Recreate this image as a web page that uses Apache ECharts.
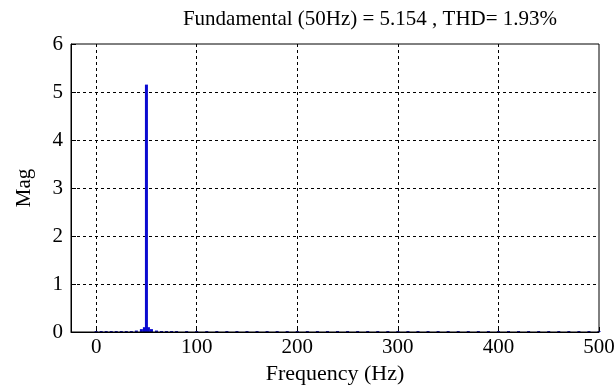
<!DOCTYPE html>
<html>
<head>
<meta charset="utf-8">
<script src="https://cdn.jsdelivr.net/npm/echarts@6/dist/echarts.min.js"></script>
<style>
  html,body{margin:0;padding:0;background:#fff;}
  #chart{width:616px;height:387px;}
</style>
</head>
<body>
<div id="chart"></div>
<script>
// spectrum
var freqs = [0, 5, 10, 15, 20, 25, 30, 35, 40, 45, 48, 50, 52, 55, 60, 65, 70, 75, 80, 90, 100, 110, 120, 130, 140, 150,
             160, 170, 180, 190, 200, 210, 220, 230, 240, 250, 260, 270, 280, 290, 300, 310, 320, 330, 340, 350,
             360, 370, 380, 390, 400, 410, 420, 430, 440, 450, 460, 470, 480, 490, 500];
var mags  = [0.02, 0.02, 0.02, 0.02, 0.02, 0.02, 0.02, 0.02, 0.03, 0.06, 0.1, 5.154, 0.1, 0.06, 0.03, 0.02, 0.02, 0.02, 0.02, 0.02, 0.02, 0.02, 0.02, 0.02, 0.02, 0.02,
             0.02, 0.02, 0.02, 0.02, 0.02, 0.02, 0.02, 0.02, 0.02, 0.02, 0.02, 0.02, 0.02, 0.02, 0.02, 0.02, 0.02, 0.02, 0.02, 0.02,
             0.02, 0.02, 0.02, 0.02, 0.02, 0.02, 0.02, 0.02, 0.02, 0.02, 0.02, 0.02, 0.02, 0.02, 0.02];
var xTicks = [0, 100, 200, 300, 400, 500];
var titleText = 'Fundamental (50Hz) = 5.154 , THD= 1.93%';

var font = 'Liberation Serif';
var chart = echarts.init(document.getElementById('chart'));
chart.setOption({
  animation: false,
  title: {
    text: titleText,
    left: 365, top: 4, textAlign: 'center',
    textStyle: {fontFamily: font, fontSize: 21, fontWeight: 'normal', color: '#000'}
  },
  grid: {left: 71, right: 17, top: 44, bottom: 55, outerBoundsMode: 'none', containLabel: false,
         show: true, borderColor: '#000', borderWidth: 1, z: 10},
  xAxis: {
    type: 'value', min: -25, max: 500,
    name: 'Frequency (Hz)', nameLocation: 'middle', nameGap: 23,
    nameTextStyle: {fontFamily: font, fontSize: 22, color: '#000'},
    axisLine: {show: true, onZero: false, lineStyle: {color: '#000'}},
    axisTick: {show: true, inside: true, length: 5, customValues: xTicks, lineStyle: {color: '#000'}},
    axisLabel: {customValues: xTicks, fontFamily: font, fontSize: 21, color: '#000', margin: 5},
    splitLine: {show: true, showMaxLine: false, lineStyle: {color: '#000', type: [3, 3], width: 1}}
  },
  yAxis: {
    type: 'value', min: 0, max: 6, interval: 1,
    name: 'Mag', nameLocation: 'middle', nameGap: 36,
    nameTextStyle: {fontFamily: font, fontSize: 21, color: '#000'},
    axisLine: {show: true, onZero: false, lineStyle: {color: '#000'}},
    axisTick: {show: true, inside: true, length: 5, lineStyle: {color: '#000'}},
    axisLabel: {fontFamily: font, fontSize: 21, color: '#000', margin: 8},
    splitLine: {show: true, showMinLine: false, showMaxLine: false, lineStyle: {color: '#000', type: [3, 3], width: 1}}
  },
  series: [{
    type: 'bar',
    barWidth: 3,
    itemStyle: {color: '#0a0ad0'},
    data: freqs.map(function (f, i) { return [f, mags[i]]; })
  }]
});
</script>
</body>
</html>
